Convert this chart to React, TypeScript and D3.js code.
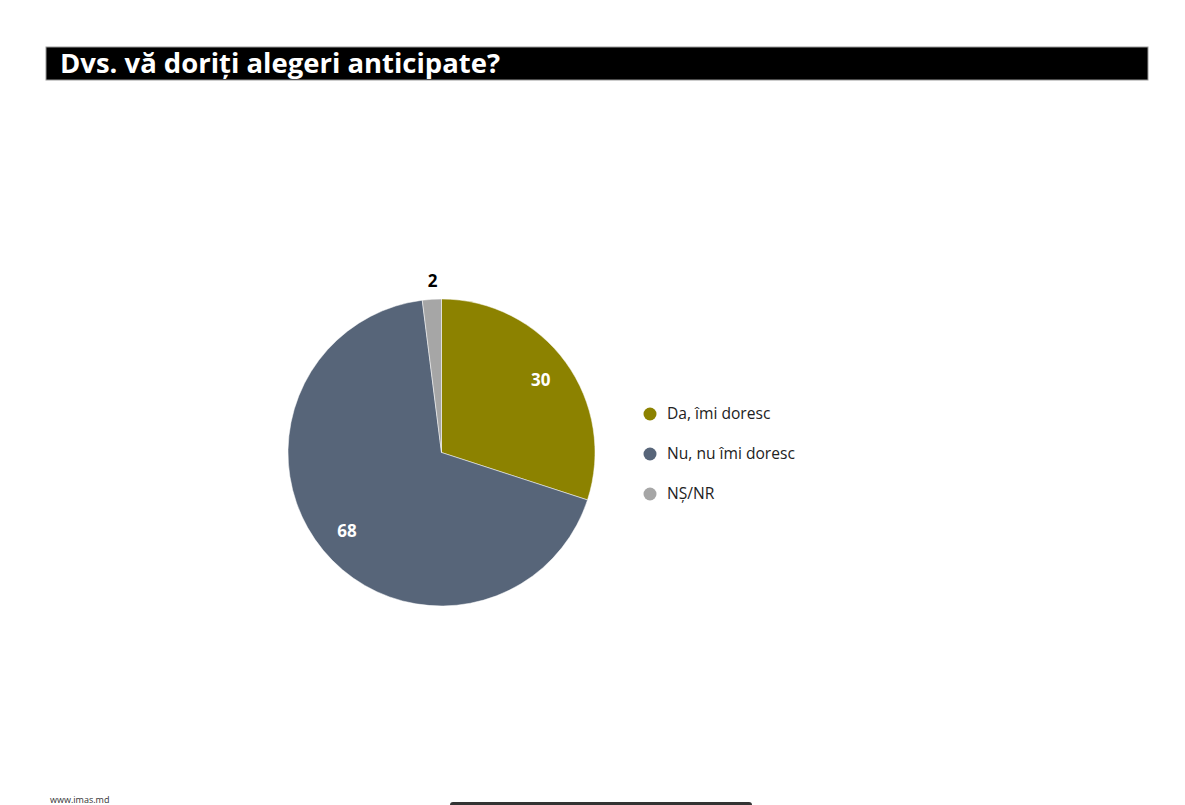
import React from "react";
import * as d3 from "d3";

const categories = ["Da, îmi doresc", "Nu, nu îmi doresc", "NȘ/NR"];
const values = [30, 68, 2];
const colors = ["#8C8200", "#576579", "#A6A6A6"];
const title = "Dvs. vă doriți alegeri anticipate?";
const footer = "www.imas.md";

export default function App() {
  const W = 1185, H = 805;
  const cx = 441.5, cy = 452.5, r = 153.5;
  const pie = d3.pie<number>().sort(null).value((d) => d)(values);
  const arc = d3.arc<d3.PieArcDatum<number>>().innerRadius(0).outerRadius(r);
  const labelArcIn = d3.arc<d3.PieArcDatum<number>>().innerRadius(r * 0.8).outerRadius(r * 0.8);
  const labelArcOut = d3.arc<d3.PieArcDatum<number>>().innerRadius(r * 1.12).outerRadius(r * 1.12);
  const font = "'Open Sans', sans-serif";
  return (
    <svg width={W} height={H} style={{ position: "absolute", left: 0, top: 0, fontFamily: font }}>
      <rect x={0} y={0} width={W} height={H} fill="#fff" />
      <rect x={46} y={47} width={1102} height={33} fill="#000" stroke="#999" strokeWidth={1} />
      <text x={60} y={73} fill="#fff" fontSize={26} fontWeight="bold" textLength={440} lengthAdjust="spacingAndGlyphs">
        {title}
      </text>
      <g transform={`translate(${cx},${cy})`}>
        {pie.map((p, i) => (
          <path key={i} d={arc(p) || ""} fill={colors[i]} stroke="#fff" strokeWidth={0.5} />
        ))}
        {pie.map((p, i) => {
          const big = p.endAngle - p.startAngle > 0.3;
          const [x, y] = big ? labelArcIn.centroid(p) : labelArcOut.centroid(p);
          return (
            <text key={i} x={big ? x : x + 2} y={y} dy="0.35em" textAnchor="middle" fontSize={17} fontWeight="bold" fill={big ? "#fff" : "#000"}>
              {values[i]}
            </text>
          );
        })}
      </g>
      {categories.map((c, i) => (
        <g key={c} transform={`translate(650,${414 + i * 40})`}>
          <circle r={6.5} fill={colors[i]} />
          <text x={17} y={0} dy="0.35em" fontSize={15.6} fill="#222">{c}</text>
        </g>
      ))}
      <text x={50} y={803} fontSize={9} fill="#333">{footer}</text>
      <rect x={450} y={802} width={302} height={6} rx={3} fill="#333" />
    </svg>
  );
}
